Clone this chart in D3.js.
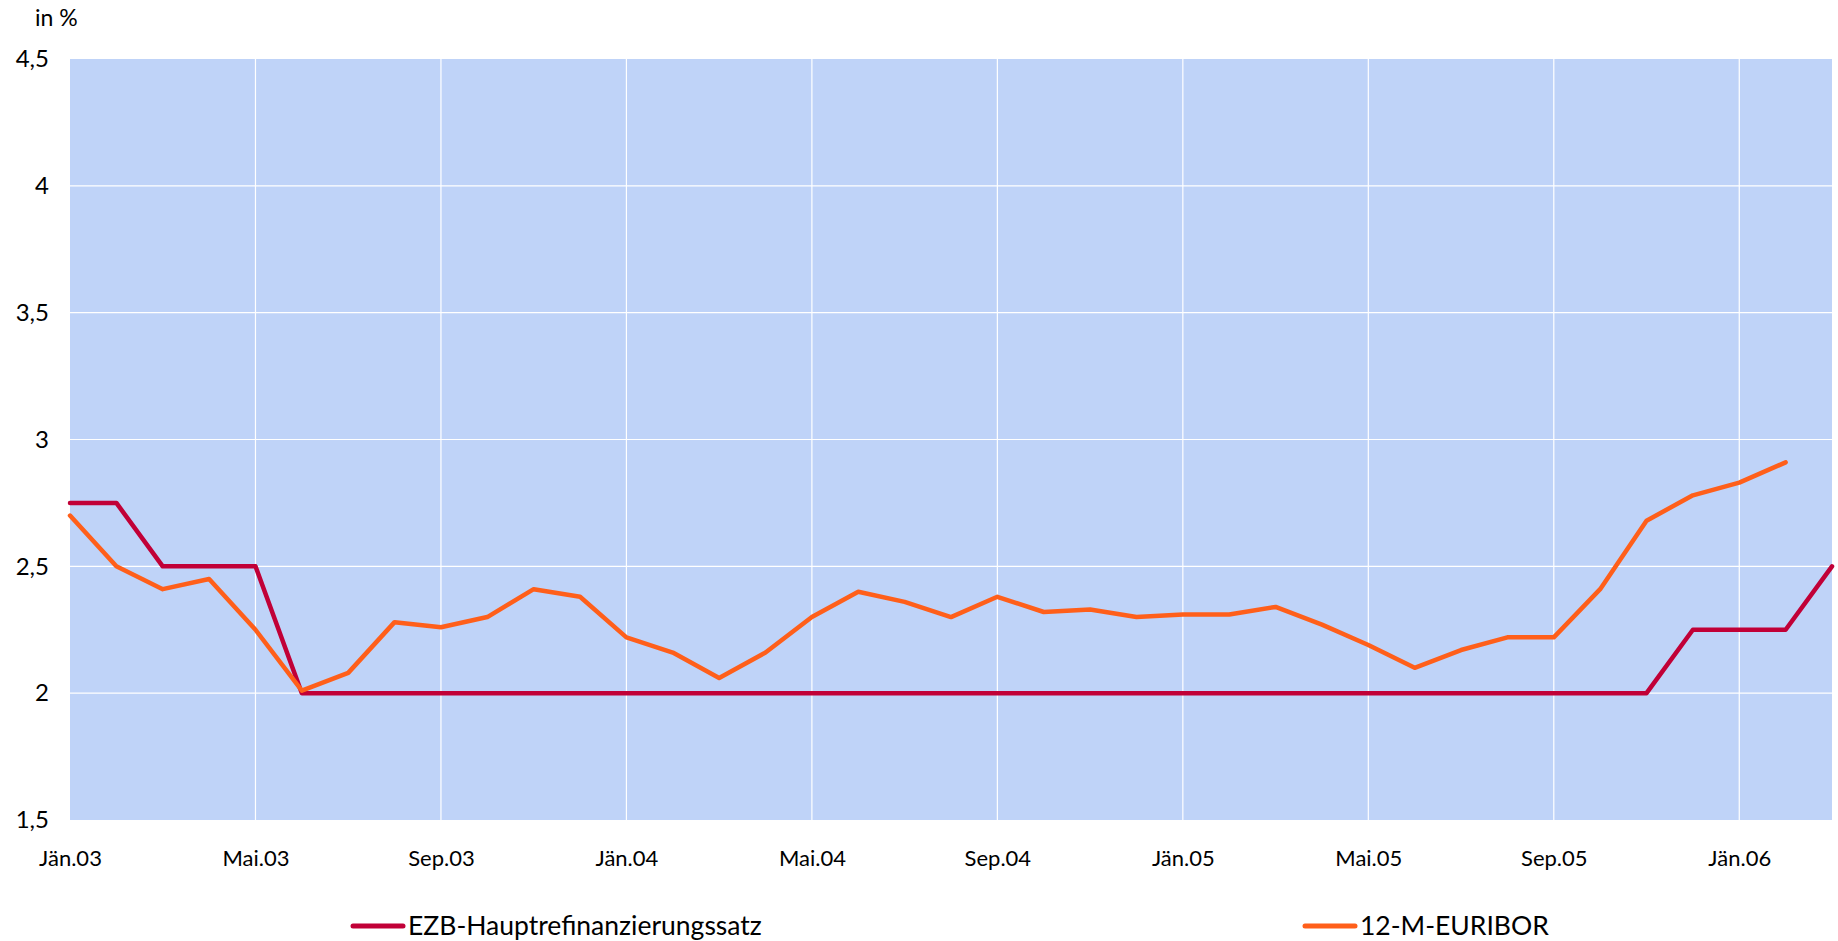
<!DOCTYPE html>
<html>
<head>
<meta charset="utf-8">
<script src="https://cdn.jsdelivr.net/npm/d3@7"></script>
<style>
  body { margin: 0; background: #fff; }
  text { font-family: Lato, "Open Sans", sans-serif; fill: #000; }
</style>
</head>
<body>
<script>
// month names (German, Austrian style)
var monthNames = ["Jän", "Feb", "Mär", "Apr", "Mai", "Jun", "Jul", "Aug", "Sep", "Okt", "Nov", "Dez"];
var years = ["03", "04", "05", "06"];

var months = [];
years.forEach(function(y) {
	monthNames.forEach(function(m) { months.push(m + "." + y); });
});
months = months.slice(0, 39); // Jän.03 .. Mär.06

var ezb = [2.75, 2.75, 2.5, 2.5, 2.5, 2, 2, 2, 2, 2, 2, 2,
	2, 2, 2, 2, 2, 2, 2, 2, 2, 2, 2, 2,
	2, 2, 2, 2, 2, 2, 2, 2, 2, 2, 2, 2.25,
	2.25, 2.25, 2.5];

var euribor = [2.70, 2.50, 2.41, 2.45, 2.25, 2.01, 2.08, 2.28, 2.26, 2.30, 2.41, 2.38,
	2.22, 2.16, 2.06, 2.16, 2.30, 2.40, 2.36, 2.30, 2.38, 2.32, 2.33, 2.30,
	2.31, 2.31, 2.34, 2.27, 2.19, 2.10, 2.17, 2.22, 2.22, 2.41, 2.68, 2.78,
	2.83, 2.91];

var xTicks = ["Jän.03", "Mai.03", "Sep.03", "Jän.04", "Mai.04", "Sep.04", "Jän.05", "Mai.05", "Sep.05", "Jän.06"];
var yTicks = [1.5, 2, 2.5, 3, 3.5, 4, 4.5];

var seriesNames = ["EZB-Hauptrefinanzierungssatz", "12-M-EURIBOR"];
var colors = ["#c10037", "#ff5f1a"];

var w = 1838, h = 941;
var m = {l: 70, r: 1832, t: 59, b: 820};

var svg = d3.select("body").append("svg")
	.attr("width", w)
	.attr("height", h);

var x = d3.scalePoint().domain(months).range([m.l, m.r]);
var y = d3.scaleLinear().domain([1.5, 4.5]).range([m.b, m.t]);

// plot background
svg.append("rect")
	.attr("x", m.l).attr("y", m.t)
	.attr("width", m.r - m.l).attr("height", m.b - m.t)
	.attr("fill", "#bfd3f8");

// gridlines
svg.selectAll(".hgrid")
	.data(yTicks.filter(function(d) { return d > 1.5 && d < 4.5; }))
	.enter().append("line")
	.attr("x1", m.l).attr("x2", m.r)
	.attr("y1", function(d) { return y(d); })
	.attr("y2", function(d) { return y(d); })
	.attr("stroke", "#fff").attr("stroke-width", 1.2);

svg.selectAll(".vgrid")
	.data(xTicks.slice(1))
	.enter().append("line")
	.attr("y1", m.t).attr("y2", m.b)
	.attr("x1", function(d) { return x(d); })
	.attr("x2", function(d) { return x(d); })
	.attr("stroke", "#fff").attr("stroke-width", 1.2);

// axes (labels only)
var yAxis = d3.axisLeft(y).tickValues(yTicks).tickSize(0).tickPadding(0)
	.tickFormat(function(d) { return String(d).replace(".", ","); });
var gy = svg.append("g").attr("transform", "translate(49,0)").call(yAxis);
gy.select(".domain").remove();
gy.selectAll("text").style("font-size", "24px").attr("font-family", null);

var xAxis = d3.axisBottom(x).tickValues(xTicks).tickSize(0).tickPadding(0);
var gx = svg.append("g").attr("transform", "translate(0,850)").call(xAxis);
gx.select(".domain").remove();
gx.selectAll("text").style("font-size", "22px").attr("font-family", null);

svg.append("text")
	.attr("x", 35).attr("y", 26)
	.style("font-size", "23px")
	.text("in %");

// lines
var line = d3.line()
	.x(function(d, i) { return x(months[i]); })
	.y(function(d) { return y(d); });

[ezb, euribor].forEach(function(s, k) {
	svg.append("path")
		.datum(s)
		.attr("d", line)
		.attr("fill", "none")
		.attr("stroke", colors[k])
		.attr("stroke-width", 4.5)
		.attr("stroke-linejoin", "round")
		.attr("stroke-linecap", "round");
});

// legend
var legendX = [353, 1305];
seriesNames.forEach(function(name, k) {
	var g = svg.append("g").attr("transform", "translate(" + legendX[k] + ",926)");
	g.append("line")
		.attr("x1", 0).attr("x2", 50)
		.attr("stroke", colors[k]).attr("stroke-width", 5)
		.attr("stroke-linecap", "round");
	g.append("text")
		.attr("x", 55).attr("dy", "0.35em")
		.style("font-size", "26.5px")
		.text(name);
});
</script>
</body>
</html>
